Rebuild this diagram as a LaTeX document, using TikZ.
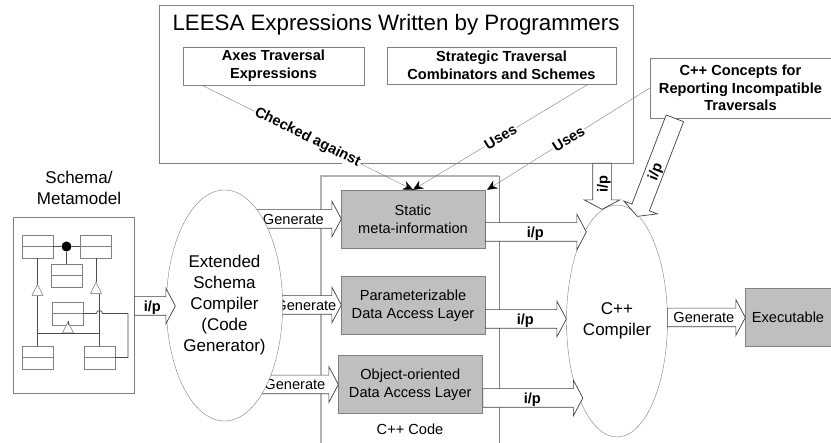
\documentclass[tikz,border=0pt]{standalone}
\usepackage{fontspec}
\setmainfont{Liberation Sans}
\usetikzlibrary{arrows.meta,calc,positioning,shapes.arrows,shapes.geometric}
\definecolor{boxgray}{gray}{0.75}
\definecolor{edgegray}{gray}{0.5}

\begin{document}
\begin{tikzpicture}[>={Stealth[length=10pt,width=9pt,black]},x=1pt,y=-1pt,
every node/.style={font=\fontsize{14.6pt}{17.7pt}\selectfont},
box/.style={draw=edgegray,fill=white,rectangle,align=center,inner sep=0pt},
bold box/.style={box,font=\fontsize{14.6pt}{17.7pt}\selectfont\bfseries},
layer/.style={box,fill=boxgray,minimum width=144pt,minimum height=58pt},
compiler/.style={ellipse,draw=edgegray,fill=white,align=center,inner sep=0pt,
  minimum width=101pt,minimum height=232pt,font=\fontsize{17pt}{21pt}\selectfont},
blockarrow/.style={single arrow,draw=black!75,fill=white,inner xsep=0pt,inner ysep=3.5pt,
  text height=11pt,text depth=0pt,single arrow head extend=8.5pt,single arrow tip angle=124,
  anchor=tail,line width=0.7pt},
input/.style={blockarrow,font=\fontsize{14.6pt}{17.7pt}\selectfont\bfseries},
uses/.style={draw=edgegray,->},
uses label/.style={sloped,fill=white,inner sep=1pt,font=\fontsize{14.6pt}{17.7pt}\selectfont\bfseries},
classbox/.style={draw=edgegray,fill=white,minimum width=31pt,minimum height=23pt,inner sep=0pt,
  path picture={\draw[edgegray] (path picture bounding box.west) -- (path picture bounding box.east);}},
inherit/.style={isosceles triangle,isosceles triangle stretches,shape border rotate=90,
  draw=black!60,fill=white,inner sep=0pt,minimum height=11pt,minimum width=11pt},
link/.style={draw=black!70,line width=0.8pt}]

\useasboundingbox (0,0) rectangle (831,443);

% C++ code region, open at the bottom
\coordinate (codeBL) at (321,443);
\coordinate (codeTL) at (321,176);
\coordinate (codeTR) at (499,176);
\coordinate (codeBR) at (499,443);
\draw[black!30,line width=1.4pt] (codeBL) -- (codeTL) -- (codeTR);
\draw[edgegray] (codeTR) -- (codeBR);
\node (code) at (410,429) {C++ Code};

% top box
\node[box,minimum width=474pt,minimum height=158pt] (leesa) at (396,84) {};
\node[font=\fontsize{22.3pt}{26pt}\selectfont] (title) at (396,25) {LEESA Expressions Written by Programmers};
\node[bold box,minimum width=181pt,minimum height=38pt] (axes) at (273.5,66) {Axes Traversal\\Expressions};
\node[bold box,minimum width=229pt,minimum height=37pt] (strategic) at (501.5,65.5) {Strategic Traversal\\Combinators and Schemes};
\node[bold box,minimum width=181pt,minimum height=60pt] (concepts) at (740.5,88) {C++ Concepts for\\Reporting Incompatible\\Traversals};

\node[layer] (static) at (413,219) {Static\\meta-information};
\node[layer] (param) [below of=static,node distance=86.5pt] {Parameterizable\\Data Access Layer};
\node[layer] (object) at (410.25,384.5) {Object-oriented\\Data Access Layer};
\node[layer,minimum width=86pt] (exec) at (788,317) {Executable};

\node[compiler] (cpp) at (617,321) {C++\\Compiler};

% schema
\node[font=\fontsize{17pt}{21pt}\selectfont,align=center] (schemalabel) at (79,187.5) {Schema/\\Metamodel};
\node[box,minimum width=120.5pt,minimum height=176pt] (schema) at (73.75,305) {};
\node[classbox] (c1) at (37.5,246.5) {};
\node[classbox] (c2) at (96,246.5) {};
\node[classbox] (c3) at (66.5,275.5) {};
\node[classbox] (c4) at (68,313.5) {};
\node[classbox] (c5) at (37.5,357.5) {};
\node[classbox] (c6) at (99.5,357.5) {};
\node[circle,fill=black,inner sep=0pt,minimum size=10pt] (dot) at (66.5,246.5) {};
\node[inherit] (t1) at (37.5,292) {};
\node[inherit] (t2) at (96,290) {};
\node[inherit] (t3) at (68,329.5) {};
\draw[link] (c1.east) -- (dot) -- (c2.west);
\draw[link] (dot) -- (c3.north);
\draw[link] (c1.south) -- (t1.apex);
\draw[link] (t1.lower side) -- (c5.north);
\draw[link] (c2.south) -- (t2.apex);
\draw[link] (t2.lower side -| c6.north) -- (c6.north);
\draw[link] (c4.south) -- (t3.apex);
\draw[link] (t3.lower side -| c5.north) -- (t3.lower side -| c6.north);
\coordinate (jump) at (c6.north |- c4.east);
\coordinate (turn) at (128,313.5);
\draw[link] (c4.east) -- ($(jump)+(-3,0)$) arc[start angle=180,end angle=0,radius=3pt] -- (turn) |- (c6.east);

% generated code
\node[blockarrow,minimum height=91pt] (gen1) at (250,219) {\makebox[0pt]{Generate}};
\node[blockarrow,minimum height=66pt] (gen2) at (275,305) {\makebox[0pt]{Generate}};
\node[blockarrow,minimum height=82pt] (gen3) at (256,384.5) {\makebox[0pt]{Generate}};
\node[compiler,minimum height=231pt] (esc) at (224.5,305.5) {Extended\\Schema\\Compiler\\(Code\\Generator)};

\node[input,minimum height=41pt] (ip0) at (134,306) {\makebox[0pt]{i/p}};
\node[input,minimum height=101pt] (ip1) at (485,232) {\makebox[0pt]{\hspace{4pt}i/p}};
\node[input,minimum height=81pt] (ip2) at (485,319) {\makebox[0pt]{\hspace{4pt}i/p}};
\node[input,minimum height=100pt] (ip3) at (482.5,398) {\makebox[0pt]{\hspace{4pt}i/p}};
\node[input,rotate=90,shape border rotate=180,minimum height=46pt] (ip4) at (602,163) {\makebox[0pt]{i/p}};
\node[input,rotate=69,shape border rotate=180,minimum height=105pt] (ip5) at (675,118) {\makebox[0pt]{i/p\hspace{14pt}}};
\node[blockarrow,minimum height=78pt] (gen4) at (667,317.5) {\makebox[0pt]{Generate}};

\draw[uses] ($(axes.south west)+(19,0)$) -- node[uses label] {Checked against} (static.north);
\draw[uses] ($(strategic.south east)+(-28,0)$) -- node[uses label] {Uses} (static.north);
\draw[uses] (concepts.west) -- node[uses label] {Uses} ($(static.north east)+(2,0)$);

\end{tikzpicture}
\end{document}
